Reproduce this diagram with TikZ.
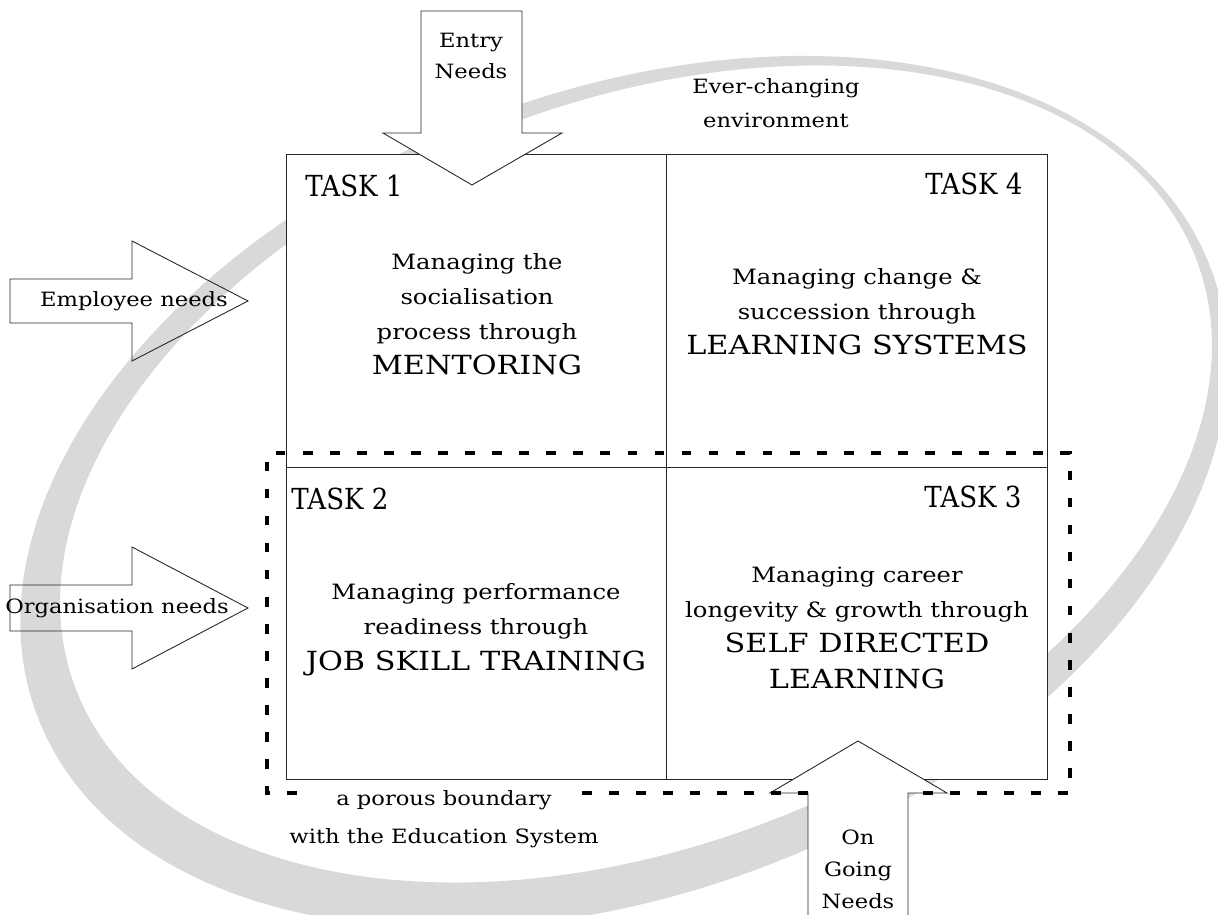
\documentclass[tikz,border=0pt]{standalone}
\usepackage{fontspec}
\setmainfont[FakeStretch=1.15]{DejaVu Serif}
\newfontfamily\taskfont[FakeStretch=0.9]{DejaVu Serif}

\tikzset{every picture/.style={line width=0.5pt}}
\tikzset{
  swirl/.style={fill=black!15, even odd rule},
  taskgrid/.style={draw=black!85},
  needarrow/.style={draw=black!85, line join=miter},
  porous/.style={line width=2.3pt, dash pattern=on 5.5pt off 9.9pt},
  tasklabel/.style={inner sep=0pt, font=\taskfont\fontsize{16.5}{20}\selectfont},
  body/.style={inner sep=0pt, align=center, font=\fontsize{12}{20}\selectfont},
  needlabel/.style={inner sep=0pt, align=center, font=\fontsize{11.2}{18}\selectfont},
}
\newcommand{\method}[1]{{\fontsize{15}{20}\selectfont #1}}

\begin{document}
\begin{tikzpicture}[x=0.02cm,y=-0.02cm]
        \useasboundingbox (0,0) rectangle (1218,915);
        % the grey ring
        \fill[swirl] {[rotate around={21:(624,492)}] (624,492) ellipse [x radius=628, y radius=400]}
            {[rotate around={21:(636,474)}] (636,474) ellipse [x radius=600, y radius=372]};
        % four tasks
        \draw[taskgrid, fill=white] (286,154) rectangle (1047,779);
        \draw[taskgrid] (666,154) -- (666,779);
        \draw[taskgrid] (286,467) -- (1047,467);
        % needs arrows
        \draw[needarrow, fill=white] (421,11) -- (522,11) -- (522,133) -- (562,133) -- (472,185) -- (383,133) -- (421,133) -- cycle;
        \draw[needarrow] (10,279) -- (132,279) -- (132,241) -- (248,301) -- (132,361) -- (132,323) -- (10,323) -- cycle;
        \draw[needarrow] (10,585) -- (132,585) -- (132,547) -- (248,608) -- (132,669) -- (132,631) -- (10,631) -- cycle;
        \draw[needarrow, fill=white] (808,925) -- (808,793) -- (770,793) -- (858,741) -- (947,793) -- (908,793) -- (908,925);
        % porous boundary
        \draw[porous] (297,793) -- (267,793) -- (267,453) -- (1070,453) -- (1070,793) -- (908,793);
        \draw[porous] (808,793) -- (580,793);

        \node[needlabel, anchor=base] (entry) at (471,79) {Entry\\Needs};
        \node[needlabel, anchor=base] (env) at (776,128) {Ever-changing\\[1.4pt]environment};
        \node[needlabel, anchor=base] (employee) at (134,307) {Employee needs};
        \node[needlabel, anchor=base] (organisation) at (117,614) {Organisation needs};
        \node[needlabel, anchor=base] (ongoing) at (858,908) {On\\Going\\Needs};
        \node[needlabel, anchor=base] (porous) at (444,843) {a porous boundary\\[3.6pt]with the Education System};

        \node[tasklabel, anchor=base west] (task1) at (305,197) {TASK 1};
        \node[tasklabel, anchor=base east] (task4) at (1023,195) {TASK 4};
        \node[tasklabel, anchor=base west] (task2) at (291,510) {TASK 2};
        \node[tasklabel, anchor=base east] (task3) at (1022,508) {TASK 3};

        \node[body, anchor=base] (mentoring) at (477,375) {Managing the\\socialisation\\process through\\\method{MENTORING}};
        \node[body, anchor=base] (systems) at (857,355) {Managing change \&\\succession through\\\method{LEARNING SYSTEMS}};
        \node[body, anchor=base] (training) at (476,670) {Managing performance\\readiness through\\\method{JOB SKILL TRAINING}};
        \node[body, anchor=base] (selfdir) at (857,688) {Managing career\\longevity \& growth through\\\method{SELF DIRECTED}\\\method{LEARNING}};
    \end{tikzpicture}
\end{document}
